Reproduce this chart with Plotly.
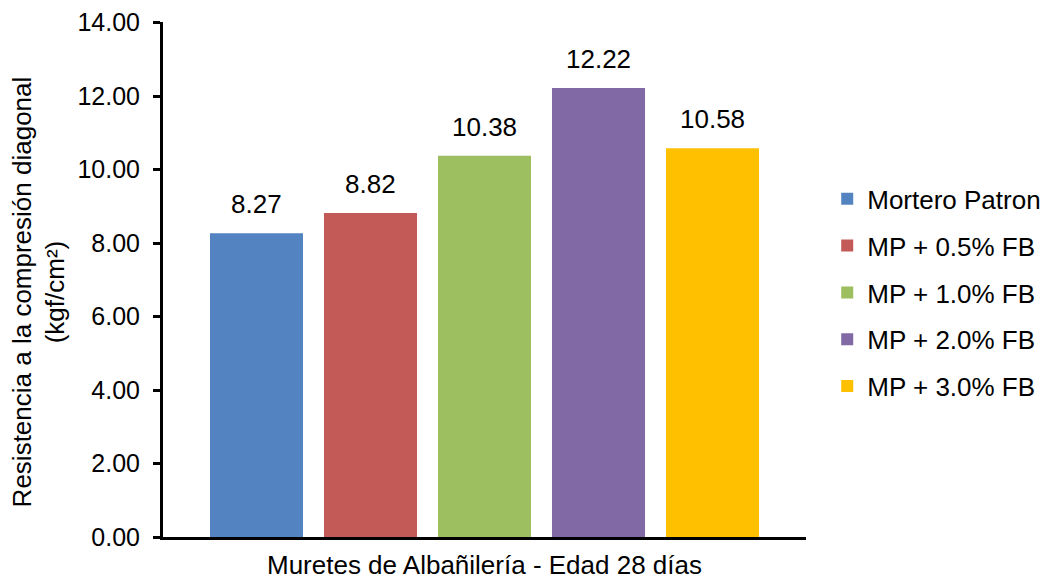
import plotly.graph_objects as go

series = ["Mortero Patron", "MP + 0.5% FB", "MP + 1.0% FB", "MP + 2.0% FB", "MP + 3.0% FB"]
values = [8.27, 8.82, 10.38, 12.22, 10.58]
colors = ["#5383C1", "#C45A57", "#9DBF5F", "#8069A4", "#FFC000"]
x_title = "Muretes de Albañilería - Edad 28 días"
y_title = "Resistencia a la compresión diagonal<br>(kgf/cm²)"
y_ticks = [0, 2, 4, 6, 8, 10, 12, 14]

FONT = "Liberation Sans, Arial, sans-serif"
FS = 26

fig = go.Figure()
for i, (name, val, col) in enumerate(zip(series, values, colors)):
    fig.add_trace(go.Bar(
        x=[name], y=[val], name=name, marker=dict(color=col, line=dict(width=0)),
        width=0.816, legendgroup=f"g{i}",
    ))
    fig.add_annotation(x=name, y=val, text=f"{val:.2f}", showarrow=False,
                       yanchor="bottom", yshift=12, font=dict(size=FS, color="black", family=FONT))

# y-axis title as a rotated annotation (slightly below axis centre, as in the original)
fig.add_annotation(xref="paper", yref="paper", x=-0.1936, y=0.476, text=y_title,
                   textangle=-90, showarrow=False, xanchor="center", yanchor="middle",
                   font=dict(size=FS, color="black", family=FONT))

fig.update_layout(
    barmode="overlay",
    width=1040, height=572,
    margin=dict(l=155, r=242, t=14, b=43, autoexpand=False),
    paper_bgcolor="white", plot_bgcolor="white",
    font=dict(family=FONT, size=FS, color="black"),
    legend=dict(x=1.033, y=0.474, xanchor="left", yanchor="middle",
                font=dict(size=FS, color="black", family=FONT),
                tracegroupgap=10, itemwidth=30),
    showlegend=True,
)
fig.update_xaxes(
    type="category", range=[-0.82, 4.82], showticklabels=False, ticks="",
    showline=True, linecolor="black", linewidth=3, showgrid=False,
    title=dict(text=x_title, font=dict(size=FS, color="black", family=FONT), standoff=17),
)
fig.update_yaxes(
    range=[0, 14.02], tickvals=y_ticks, tickformat=".2f",
    ticks="outside", ticklen=7, tickwidth=3, tickcolor="black", ticklabelstandoff=8,
    showline=True, linecolor="black", linewidth=3, showgrid=False, zeroline=False,
    tickfont=dict(size=25, color="black", family=FONT),
)
fig.write_html("out.html")
